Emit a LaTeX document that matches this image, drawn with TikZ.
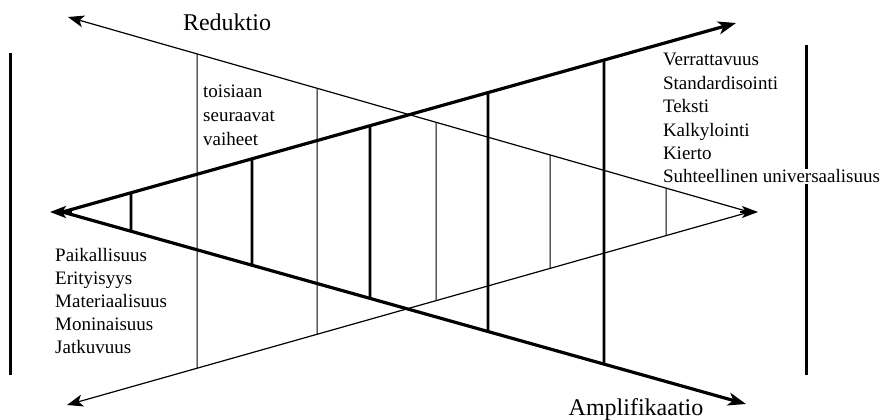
\documentclass[tikz,border=0pt]{standalone}
\usepackage{fontspec}
\setmainfont{Liberation Serif}
\usetikzlibrary{arrows.meta,calc}
\begin{document}
\begin{tikzpicture}[x=1pt,y=-1pt,
 thickln/.style={line width=3.2pt},
 thinln/.style={line width=1.2pt},
 thickvert/.style={line width=2.6pt},
 thinvert/.style={line width=1pt},
 sidebar/.style={line width=3pt},
 bigtip/.style={-{Stealth[length=18pt,width=13pt,inset=5pt]}},
 smalltip/.style={-{Stealth[length=16pt,width=12pt,inset=4pt]}},
 titlelbl/.style={font=\fontsize{24}{28}\selectfont, inner sep=0pt, anchor=base},
 itemlbl/.style={font=\fontsize{19}{23}\selectfont, inner sep=0pt, anchor=base west},
 rightitem/.style={itemlbl, fill=white, inner sep=0.8pt}]
\useasboundingbox (0,0) rectangle (889,420);
% key points
\coordinate (LA) at (62.5,212);
\coordinate (LS) at (72,212);
\coordinate (LT) at (50,212);
\coordinate (TUR) at (736,23);
\coordinate (TLR) at (746,404);
\coordinate (RA) at (749.5,212);
\coordinate (RS) at (740,212);
\coordinate (RT) at (758,212);
\coordinate (NUL) at (68,17);
\coordinate (NLL) at (67,405);
\coordinate (BL1) at (10.5,53);
\coordinate (BL2) at (10.5,375);
\coordinate (BR1) at (806,45);
\coordinate (BR2) at (806,375);
% thick verticals
\foreach \x in {131,252,370,488,604}{
  \draw[thickvert] ($(LA)!{(\x-62.5)/673.5}!(TUR)$) -- ($(LA)!{(\x-62.5)/683.5}!(TLR)$);
}
% thin verticals
\foreach \x in {197,317,436,550,666}{
  \draw[thinvert] ($(RA)!{(749.5-\x)/681.5}!(NUL)$) -- ($(RA)!{(749.5-\x)/682.5}!(NLL)$);
}
% main lines
\draw[thickln,bigtip] (LA) -- (TUR);
\draw[thickln,bigtip] (LA) -- (TLR);
\draw[thickln,smalltip] (LS) -- (LT);
\draw[thinln,smalltip] (RA) -- (NUL);
\draw[thinln,smalltip] (RA) -- (NLL);
\draw[thinln,smalltip] (RS) -- (RT);
% side bars
\draw[sidebar] (BL1) -- (BL2);
\draw[sidebar] (BR1) -- (BR2);
% titles
\node[titlelbl] (red) at (227,31) {Reduktio};
\node[titlelbl] (amp) at (636,415) {Amplifikaatio};
% middle text
\node[itemlbl] (s1) at (203,98) {toisiaan};
\node[itemlbl] (s2) at (203,121.5) {seuraavat};
\node[itemlbl] (s3) at (203,145) {vaiheet};
% left list
\node[itemlbl] (l1) at (55,261) {Paikallisuus};
\node[itemlbl] (l2) at (55,284) {Erityisyys};
\node[itemlbl] (l3) at (55,307) {Materiaalisuus};
\node[itemlbl] (l4) at (55,330) {Moninaisuus};
\node[itemlbl] (l5) at (55,353) {Jatkuvuus};
% right list
\node[rightitem] (r1) at (662,66) {Verrattavuus};
\node[rightitem] (r2) at (662,89.3) {Standardisointi};
\node[rightitem] (r3) at (662,112.6) {Teksti};
\node[rightitem] (r4) at (662,136) {Kalkylointi};
\node[rightitem] (r5) at (662,159.3) {Kierto};
\node[rightitem] (r6) at (662,182.6) {Suhteellinen universaalisuus};
\end{tikzpicture}
\end{document}
